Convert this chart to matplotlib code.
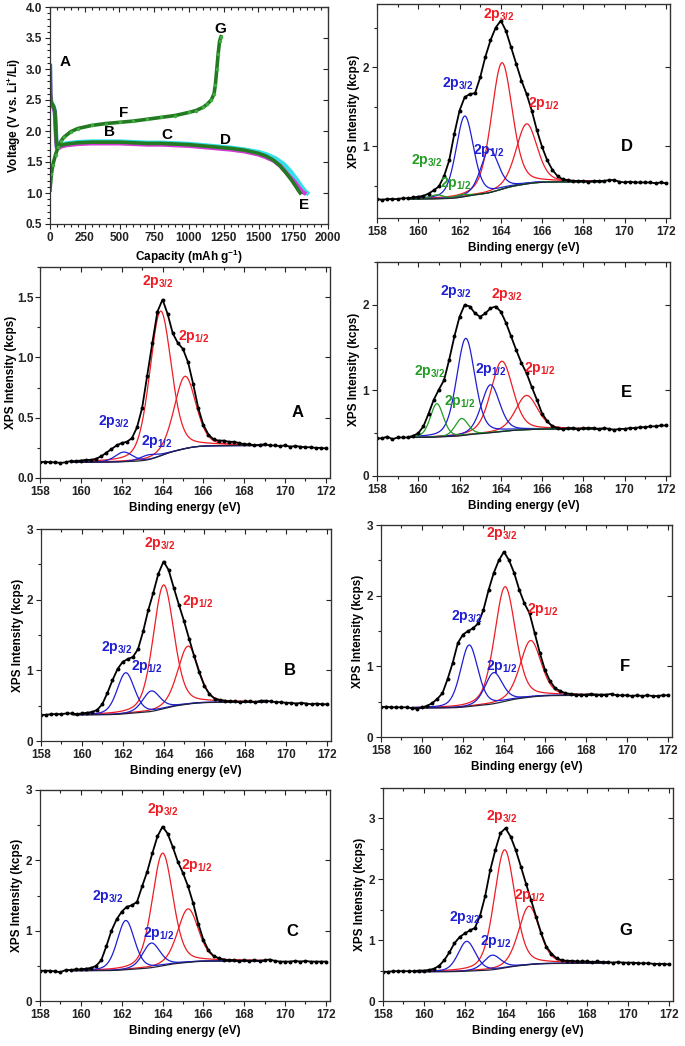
import numpy as np
import matplotlib
matplotlib.use("Agg")
import matplotlib.pyplot as plt
from matplotlib.ticker import MultipleLocator

plt.rcParams['font.family'] = ['Liberation Sans', 'DejaVu Sans']
plt.rcParams['font.weight'] = 'bold'
plt.rcParams['axes.labelweight'] = 'bold'
plt.rcParams['mathtext.fontset'] = 'custom'
plt.rcParams['mathtext.rm'] = 'Liberation Sans:bold'
plt.rcParams['mathtext.it'] = 'Liberation Sans:bold:italic'
plt.rcParams['mathtext.bf'] = 'Liberation Sans:bold'

W, H = 685, 1046
RED, BLUE, GREEN = '#ee1c24', '#1e1ed2', '#229c22'

# ---- galvanostatic curve (capacity mAh/g, voltage V) ----
dis_green_cap = [0, 3, 8, 15, 25, 35, 40, 45, 50, 60, 80, 120, 200, 300, 400, 500, 600, 700, 800,
                 900, 1000, 1100, 1200, 1300, 1400, 1500, 1550, 1600, 1650, 1700, 1740, 1770, 1790, 1800]
dis_green_v = [3.05, 2.6, 2.47, 2.44, 2.4, 2.32, 2.1, 1.85, 1.74, 1.74, 1.77, 1.79, 1.81, 1.82, 1.82,
               1.82, 1.81, 1.80, 1.80, 1.79, 1.78, 1.76, 1.74, 1.72, 1.69, 1.64, 1.60, 1.54, 1.45,
               1.32, 1.2, 1.1, 1.03, 1.0]
dis_cyan_cap = [0, 3, 8, 15, 25, 35, 40, 45, 50, 60, 80, 120, 200, 300, 400, 500, 600, 700, 800,
                900, 1000, 1100, 1200, 1300, 1400, 1500, 1560, 1620, 1680, 1730, 1780, 1810, 1835, 1850]
dis_cyan_v = [3.05, 2.6, 2.47, 2.44, 2.4, 2.32, 2.1, 1.85, 1.74, 1.75, 1.78, 1.8, 1.82, 1.83, 1.83,
              1.83, 1.82, 1.81, 1.81, 1.80, 1.79, 1.77, 1.75, 1.73, 1.70, 1.66, 1.62, 1.56, 1.47,
              1.35, 1.2, 1.1, 1.03, 1.0]
dis_mag_cap = [0, 3, 8, 15, 25, 35, 40, 45, 50, 60, 80, 120, 200, 300, 400, 500, 600, 700, 800,
               900, 1000, 1100, 1200, 1300, 1400, 1500, 1550, 1610, 1660, 1710, 1760, 1790, 1815, 1830]
dis_mag_v = [3.05, 2.6, 2.46, 2.42, 2.38, 2.3, 2.08, 1.83, 1.72, 1.72, 1.75, 1.77, 1.79, 1.80, 1.80,
             1.80, 1.79, 1.78, 1.78, 1.77, 1.76, 1.74, 1.72, 1.70, 1.67, 1.62, 1.58, 1.52, 1.43,
             1.30, 1.18, 1.09, 1.02, 1.0]
chg_cap = [0, 10, 20, 40, 60, 80, 100, 150, 200, 300, 400, 500, 600, 700, 800, 900, 1000, 1050,
           1100, 1130, 1160, 1180, 1190, 1200, 1210, 1220, 1230]
chg_v = [1.05, 1.3, 1.45, 1.62, 1.75, 1.84, 1.9, 1.99, 2.04, 2.09, 2.12, 2.14, 2.16, 2.19, 2.22,
         2.25, 2.3, 2.33, 2.38, 2.43, 2.5, 2.6, 2.75, 3.0, 3.25, 3.45, 3.52]
state_letters = ['A', 'B', 'C', 'D', 'E', 'F', 'G']
state_cap = [108, 431, 838, 1265, 1825, 532, 1222]
state_v = [3.11, 1.98, 1.94, 1.86, 0.81, 2.29, 3.64]

# ---- S 2p spectra, binding energy grid 158..172 eV step 0.25 ----
energy = np.arange(158.0, 172.001, 0.25)

A_counts = [0.13, 0.135, 0.13, 0.13, 0.125, 0.13, 0.14, 0.14, 0.145, 0.15, 0.15, 0.16, 0.18, 0.21,
            0.24, 0.27, 0.29, 0.30, 0.33, 0.42, 0.58, 0.85, 1.12, 1.38, 1.48, 1.36, 1.20, 1.12, 1.07,
            0.96, 0.78, 0.58, 0.44, 0.36, 0.32, 0.31, 0.31, 0.30, 0.30, 0.29, 0.28, 0.28, 0.27,
            0.275, 0.28, 0.27, 0.27, 0.265, 0.27, 0.26, 0.265, 0.26, 0.255, 0.255, 0.25, 0.25, 0.245]
B_counts = [0.37, 0.37, 0.38, 0.38, 0.38, 0.39, 0.39, 0.38, 0.39, 0.40, 0.41, 0.44, 0.52, 0.68,
            0.86, 1.02, 1.12, 1.16, 1.19, 1.30, 1.55, 1.85, 2.10, 2.37, 2.54, 2.42, 2.17, 1.93, 1.70,
            1.45, 1.20, 0.97, 0.78, 0.66, 0.60, 0.58, 0.57, 0.56, 0.56, 0.55, 0.56, 0.56, 0.55,
            0.57, 0.57, 0.56, 0.55, 0.55, 0.54, 0.54, 0.53, 0.54, 0.53, 0.52, 0.53, 0.52, 0.52]
C_counts = [0.43, 0.43, 0.43, 0.42, 0.41, 0.44, 0.44, 0.45, 0.45, 0.46, 0.47, 0.50, 0.58, 0.78,
            1.00, 1.16, 1.27, 1.34, 1.36, 1.41, 1.63, 1.84, 2.10, 2.34, 2.48, 2.38, 2.19, 1.98, 1.82,
            1.63, 1.39, 1.10, 0.87, 0.72, 0.64, 0.61, 0.59, 0.58, 0.58, 0.57, 0.58, 0.57, 0.58,
            0.57, 0.58, 0.59, 0.57, 0.56, 0.56, 0.56, 0.57, 0.56, 0.57, 0.56, 0.56, 0.56, 0.56]
D_counts = [0.33, 0.32, 0.33, 0.33, 0.33, 0.34, 0.34, 0.35, 0.36, 0.37, 0.40, 0.44, 0.49, 0.62,
            0.82, 1.16, 1.45, 1.62, 1.66, 1.67, 1.87, 2.13, 2.34, 2.50, 2.59, 2.46, 2.25, 2.04, 1.83,
            1.66, 1.45, 1.20, 0.99, 0.82, 0.70, 0.62, 0.58, 0.57, 0.56, 0.56, 0.56, 0.55, 0.56,
            0.56, 0.56, 0.57, 0.57, 0.55, 0.54, 0.55, 0.54, 0.54, 0.54, 0.54, 0.53, 0.54, 0.53]
E_counts = [0.44, 0.44, 0.46, 0.43, 0.45, 0.45, 0.45, 0.47, 0.50, 0.58, 0.73, 0.89, 1.01, 1.12,
            1.36, 1.63, 1.86, 2.00, 1.98, 1.90, 1.86, 1.90, 1.96, 1.98, 1.92, 1.79, 1.63, 1.47, 1.32,
            1.20, 1.04, 0.89, 0.73, 0.64, 0.58, 0.56, 0.55, 0.56, 0.56, 0.55, 0.56, 0.56, 0.56,
            0.55, 0.56, 0.55, 0.54, 0.55, 0.55, 0.56, 0.56, 0.57, 0.57, 0.58, 0.58, 0.59, 0.59]
F_counts = [0.42, 0.43, 0.42, 0.42, 0.42, 0.42, 0.41, 0.40, 0.42, 0.44, 0.48, 0.54, 0.62, 0.82,
            1.05, 1.33, 1.45, 1.50, 1.54, 1.61, 1.80, 2.08, 2.32, 2.50, 2.62, 2.50, 2.32, 2.08, 1.89,
            1.75, 1.47, 1.19, 0.95, 0.79, 0.69, 0.65, 0.62, 0.61, 0.60, 0.60, 0.60, 0.61, 0.60,
            0.60, 0.60, 0.61, 0.59, 0.59, 0.59, 0.58, 0.59, 0.58, 0.59, 0.58, 0.58, 0.59, 0.59]
G_counts = [0.48, 0.48, 0.49, 0.49, 0.49, 0.49, 0.49, 0.50, 0.50, 0.51, 0.53, 0.58, 0.67, 0.80,
            0.95, 1.05, 1.11, 1.16, 1.20, 1.40, 1.72, 2.15, 2.48, 2.76, 2.84, 2.70, 2.48, 2.21, 1.93,
            1.66, 1.38, 1.11, 0.89, 0.78, 0.70, 0.67, 0.66, 0.66, 0.65, 0.65, 0.65, 0.64, 0.65,
            0.64, 0.64, 0.63, 0.64, 0.63, 0.63, 0.63, 0.62, 0.62, 0.62, 0.61, 0.61, 0.61, 0.60]

# fitted components: centre (eV), height above background, FWHM (eV), colour
A_pos = [163.9, 165.1, 162.1, 163.3]
A_amp = [1.2, 0.6, 0.08, 0.04]
A_fwhm = [1.25, 1.25, 1.0, 1.0]
A_col = [RED, RED, BLUE, BLUE]
B_pos = [164.0, 165.2, 162.15, 163.4]
B_amp = [1.75, 0.82, 0.58, 0.29]
B_fwhm = [1.2, 1.2, 1.0, 1.0]
B_col = [RED, RED, BLUE, BLUE]
C_pos = [164.0, 165.25, 162.2, 163.45]
C_amp = [1.6, 0.76, 0.7, 0.35]
C_fwhm = [1.2, 1.2, 1.0, 1.0]
C_col = [RED, RED, BLUE, BLUE]
D_pos = [164.05, 165.25, 162.25, 163.45, 160.9, 162.1]
D_amp = [1.6, 0.76, 1.02, 0.55, 0.05, 0.03]
D_fwhm = [1.2, 1.2, 1.0, 1.0, 0.8, 0.8]
D_col = [RED, RED, BLUE, BLUE, GREEN, GREEN]
E_pos = [164.05, 165.25, 162.3, 163.5, 160.9, 162.1]
E_amp = [0.82, 0.40, 1.13, 0.56, 0.39, 0.2]
E_fwhm = [1.25, 1.25, 1.05, 1.05, 0.75, 0.75]
E_col = [RED, RED, BLUE, BLUE, GREEN, GREEN]
F_pos = [164.05, 165.3, 162.3, 163.5]
F_amp = [1.62, 0.8, 0.87, 0.44]
F_fwhm = [1.2, 1.2, 1.0, 1.0]
F_col = [RED, RED, BLUE, BLUE]
G_pos = [163.95, 165.15, 162.1, 163.35]
G_amp = [1.94, 0.96, 0.49, 0.24]
G_fwhm = [1.2, 1.2, 1.0, 1.0]
G_col = [RED, RED, BLUE, BLUE]
# background level (low-energy side, high-energy side)
A_bg = (0.13, 0.27)
B_bg = (0.37, 0.55)
C_bg = (0.43, 0.57)
D_bg = (0.33, 0.55)
E_bg = (0.45, 0.55)
F_bg = (0.41, 0.59)
G_bg = (0.48, 0.62)

P32 = r'2p$_{3/2}$'
P12 = r'2p$_{1/2}$'
A_labels = [(P32, 163.75, 1.63, RED), (P12, 165.55, 1.17, RED), (P32, 161.6, 0.47, BLUE),
            (P12, 163.7, 0.30, BLUE)]
B_labels = [(P32, 163.8, 2.80, RED), (P12, 165.7, 1.97, RED), (P32, 161.7, 1.33, BLUE),
            (P12, 163.2, 1.05, BLUE)]
C_labels = [(P32, 164.0, 2.72, RED), (P12, 165.7, 1.93, RED), (P32, 161.3, 1.48, BLUE),
            (P12, 163.8, 0.96, BLUE)]
D_labels = [(P32, 163.9, 2.67, RED), (P12, 166.1, 1.54, RED), (P32, 161.9, 1.79, BLUE),
            (P12, 163.4, 0.95, BLUE), (P32, 160.4, 0.82, GREEN), (P12, 161.8, 0.53, GREEN)]
E_labels = [(P32, 164.3, 2.12, RED), (P12, 165.9, 1.26, RED), (P32, 161.8, 2.16, BLUE),
            (P12, 163.5, 1.24, BLUE), (P32, 160.55, 1.22, GREEN), (P12, 162.0, 0.87, GREEN)]
F_labels = [(P32, 163.9, 2.88, RED), (P12, 165.9, 1.80, RED), (P32, 162.2, 1.70, BLUE),
            (P12, 163.9, 1.00, BLUE)]
G_labels = [(P32, 163.8, 3.03, RED), (P12, 165.2, 1.74, RED), (P32, 162.0, 1.38, BLUE),
            (P12, 163.5, 0.97, BLUE)]


def px_axes(fig, left, top, right, bottom):
    return fig.add_axes([left / W, 1 - bottom / H, (right - left) / W, (bottom - top) / H])


def style(ax):
    # ticks point out on the labelled sides, in on the top and right
    for s in ax.spines.values():
        s.set_color('#333333')
        s.set_linewidth(0.9)
    ax.tick_params(which='both', direction='out', width=0.8, labelsize=8.5,
                   colors='#222222', pad=2)
    ax.tick_params(which='major', length=3.5)
    ax.tick_params(which='minor', length=2)
    top = ax.secondary_xaxis('top')
    right = ax.secondary_yaxis('right')
    top.xaxis.set_major_locator(ax.xaxis.get_major_locator())
    top.xaxis.set_minor_locator(ax.xaxis.get_minor_locator())
    right.yaxis.set_major_locator(ax.yaxis.get_major_locator())
    for sec in (top, right):
        sec.tick_params(which='both', direction='in', labelsize=0, colors='#222222', width=0.8)
        sec.tick_params(which='major', length=3.5)
        sec.tick_params(which='minor', length=2)
    top.set_xticklabels([])
    right.set_yticklabels([])


def pseudo_voigt(x, c, a, w, eta=0.3):
    u = ((x - c) / w) ** 2
    return a * (eta / (1 + 4 * u) + (1 - eta) * np.exp(-4 * np.log(2) * u))


def xps_panel(ax, counts, pos, amp, fwhm, cols, bg, labels, letter, ymin, ymax, letter_xy, ystep,
              ylabelpad=2):
    xf = np.linspace(159.6, 169.0, 500)
    peaks = [pseudo_voigt(xf, c, a, w) for c, a, w in zip(pos, amp, fwhm)]
    total = np.sum(peaks, axis=0)
    step = np.cumsum(total) / np.sum(total)
    base = bg[0] + (bg[1] - bg[0]) * step
    for p, col in zip(peaks, cols):
        ax.plot(xf, base + p, color=col, lw=0.9)
    ax.plot(xf, base, color='#22223a', lw=0.9)
    ax.plot(energy, counts, color='black', lw=1.3, marker='o', ms=1.8)
    for txt, x, y, col in labels:
        ax.text(x, y, txt, color=col, fontsize=10, ha='center', va='center', fontweight='bold')
    ax.text(letter_xy[0], letter_xy[1], letter, fontsize=12, ha='center', va='center',
            fontweight='bold')
    ax.set_xlim(158, 172.2)
    ax.set_ylim(ymin, ymax)
    ax.xaxis.set_major_locator(MultipleLocator(2))
    ax.xaxis.set_minor_locator(MultipleLocator(1))
    ax.yaxis.set_major_locator(MultipleLocator(ystep))
    ax.yaxis.set_minor_locator(MultipleLocator(ystep / 2))
    ax.set_xlabel('Binding energy (eV)', fontsize=8.5, labelpad=3)
    ax.set_ylabel('XPS Intensity (kcps)', fontsize=8.5, labelpad=ylabelpad)
    style(ax)


fig = plt.figure(figsize=(W / 100, H / 100), dpi=100)

# voltage profile
ax0 = px_axes(fig, 50, 7, 328, 224)
ax0.plot(dis_cyan_cap, dis_cyan_v, color='#33e0e8', lw=3.2)
ax0.plot(dis_mag_cap, dis_mag_v, color='#d63ad6', lw=3.0)
ax0.plot(dis_green_cap, dis_green_v, color='#237a23', lw=2.6)
ax0.plot(chg_cap, chg_v, color='#237a23', lw=2.6)
ax0.plot(chg_cap, chg_v, color='#3fb03f', lw=0, marker='.', ms=3)
for s, c, v in zip(state_letters, state_cap, state_v):
    ax0.text(c, v, s, fontsize=11, ha='center', va='center', fontweight='bold')
ax0.set_xlim(0, 2000)
ax0.set_ylim(0.5, 4.0)
ax0.xaxis.set_major_locator(MultipleLocator(250))
ax0.xaxis.set_minor_locator(MultipleLocator(50))
ax0.yaxis.set_major_locator(MultipleLocator(0.5))
ax0.yaxis.set_minor_locator(MultipleLocator(0.1))
ax0.yaxis.set_major_formatter('{x:.1f}')
ax0.set_xlabel('Capacity (mAh g$^{-1}$)', fontsize=8.5, labelpad=3)
ax0.set_ylabel('Voltage (V vs. Li$^{+}$/Li)', fontsize=8.5, labelpad=2)
style(ax0)

axA = px_axes(fig, 40, 267, 330, 478)
axA.yaxis.set_major_formatter('{x:.1f}')
xps_panel(axA, A_counts, A_pos, A_amp, A_fwhm, A_col, A_bg, A_labels, 'A', 0, 1.75,
          (170.6, 0.54), 0.5, ylabelpad=0)
axA.tick_params(axis='y', pad=1)

axB = px_axes(fig, 41, 529, 331, 741)
xps_panel(axB, B_counts, B_pos, B_amp, B_fwhm, B_col, B_bg, B_labels, 'B', 0, 3,
          (170.2, 1.0), 1)

axC = px_axes(fig, 40, 790, 330, 1001)
xps_panel(axC, C_counts, C_pos, C_amp, C_fwhm, C_col, C_bg, C_labels, 'C', 0, 3,
          (170.35, 0.99), 1)

axD = px_axes(fig, 377, 4, 670, 218)
xps_panel(axD, D_counts, D_pos, D_amp, D_fwhm, D_col, D_bg, D_labels, 'D', 0.09, 2.8,
          (170.1, 0.99), 1)

axE = px_axes(fig, 377, 262, 670, 476)
xps_panel(axE, E_counts, E_pos, E_amp, E_fwhm, E_col, E_bg, E_labels, 'E', 0, 2.5,
          (170.1, 0.97), 1)

axF = px_axes(fig, 381, 525, 672, 737)
xps_panel(axF, F_counts, F_pos, F_amp, F_fwhm, F_col, F_bg, F_labels, 'F', 0, 3,
          (169.9, 1.0), 1)

axG = px_axes(fig, 383, 788, 673, 1001)
xps_panel(axG, G_counts, G_pos, G_amp, G_fwhm, G_col, G_bg, G_labels, 'G', 0, 3.5,
          (169.9, 1.16), 1)

fig.savefig('out.png', dpi=100)
